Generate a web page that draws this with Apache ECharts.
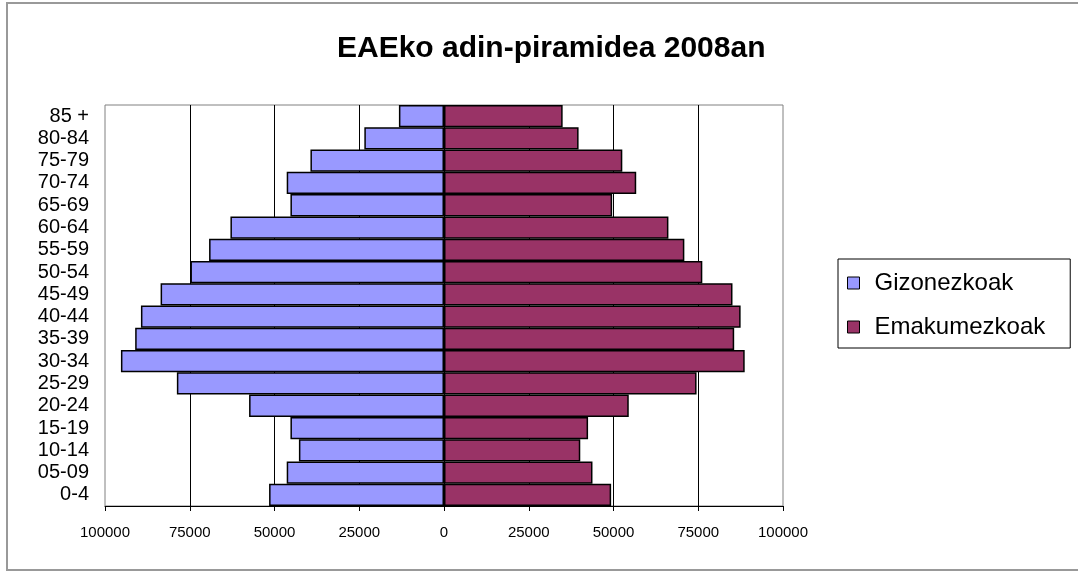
<!DOCTYPE html>
<html>
<head>
<meta charset="utf-8">
<script src="https://cdn.jsdelivr.net/npm/echarts@6/dist/echarts.min.js"></script>
<style>
  html, body { margin: 0; padding: 0; background: #fff; }
  #chart { width: 1078px; height: 572px; }
</style>
</head>
<body>
<div id="chart"></div>
<script>
const categories = ['0-4','05-09','10-14','15-19','20-24','25-29','30-34','35-39','40-44','45-49','50-54','55-59','60-64','65-69','70-74','75-79','80-84','85 +'];
const gizonezkoak = [51600, 46400, 42800, 45300, 57500, 78800, 95300, 91100, 89400, 83600, 74800, 69300, 63000, 45300, 46400, 39400, 23500, 13300];
const emakumezkoak = [49300, 43800, 40200, 42500, 54500, 74500, 88700, 85600, 87500, 85100, 76200, 70900, 66200, 49600, 56700, 52600, 39700, 35000];
const titleText = 'EAEko adin-piramidea 2008an';
const seriesNames = ['Gizonezkoak', 'Emakumezkoak'];

const chart = echarts.init(document.getElementById('chart'), null, { renderer: 'canvas' });
const fontFam = '"Liberation Sans", Arial, sans-serif';
chart.setOption({
  backgroundColor: '#fff',
  animation: false,
  title: {
    text: titleText,
    left: 337, top: 34, padding: 0,
    textStyle: { fontFamily: fontFam, fontSize: 30, fontWeight: 'bold', color: '#000' }
  },
  graphic: [{
    type: 'rect', silent: true, z: -1,
    shape: { x: 7, y: 3, width: 1090, height: 567 },
    style: { fill: null, stroke: '#999', lineWidth: 2 }
  }],
  legend: {
    orient: 'vertical',
    left: 838, top: 259,
    padding: [12, 25, 9, 9],
    itemWidth: 12, itemHeight: 12,
    itemGap: 20,
    borderColor: '#000', borderWidth: 1,
    icon: 'rect',
    itemStyle: { borderColor: '#000', borderWidth: 1 },
    textStyle: { fontFamily: fontFam, fontSize: 24, color: '#000', padding: [0, 0, 0, 10] },
    data: seriesNames
  },
  grid: {
    left: 105, right: 295, top: 105, bottom: 66,
    show: true, borderColor: '#808080', borderWidth: 1,
    backgroundColor: '#fff'
  },
  xAxis: {
    type: 'value',
    min: -100000, max: 100000, interval: 25000,
    axisLine: { show: true, lineStyle: { color: '#000', width: 1 } },
    axisTick: { show: true, length: 5, lineStyle: { color: '#000' } },
    axisLabel: {
      margin: 19,
      fontFamily: fontFam,
      fontSize: 15, color: '#000',
      formatter: v => String(Math.abs(v))
    },
    splitLine: { show: true, showMinLine: false, showMaxLine: false, lineStyle: { color: '#000', width: 1 } }
  },
  yAxis: {
    type: 'category',
    data: categories,
    axisLine: { show: false },
    axisTick: { show: false },
    axisLabel: { interval: 0, margin: 16, fontFamily: fontFam, fontSize: 20, lineHeight: 20, color: '#000' }
  },
  series: [
    {
      name: seriesNames[0], type: 'bar',
      data: gizonezkoak.map(v => -v),
      barGap: '-100%', barCategoryGap: '0%',
      itemStyle: { color: '#9999FF', borderColor: '#000', borderWidth: 1.5 }
    },
    {
      name: seriesNames[1], type: 'bar',
      data: emakumezkoak,
      barGap: '-100%', barCategoryGap: '0%',
      itemStyle: { color: '#993366', borderColor: '#000', borderWidth: 1.5 }
    }
  ]
});
</script>
</body>
</html>
